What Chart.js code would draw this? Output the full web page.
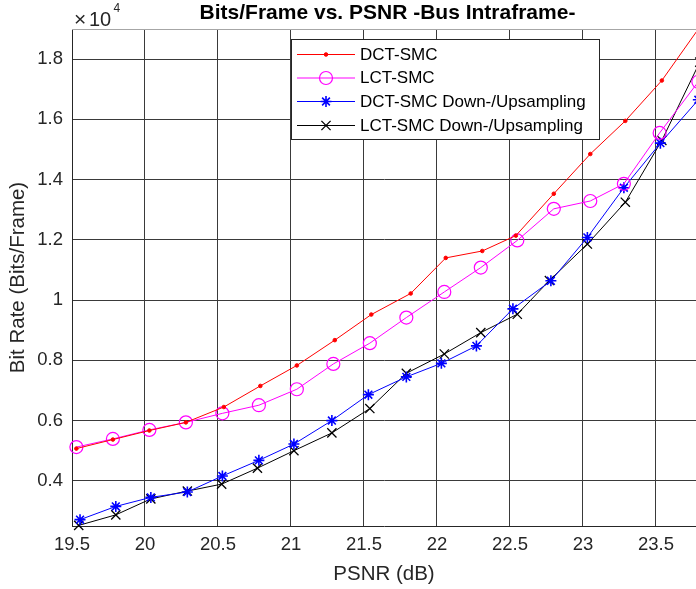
<!DOCTYPE html>
<html>
<head>
<meta charset="utf-8">
<script src="https://cdn.jsdelivr.net/npm/chart.js@4.4.1/dist/chart.umd.min.js"></script>
<style>
html,body{margin:0;padding:0;background:#fff;}
#c{display:block;}
</style>
</head>
<body>
<canvas id="c" width="696" height="589"></canvas>
<script>
// ---- data (PSNR in dB, bit rate in bits/frame) ----
const seriesNames = ["DCT-SMC", "LCT-SMC", "DCT-SMC Down-/Upsampling", "LCT-SMC Down-/Upsampling"];

const dctX = [19.53, 19.78, 20.03, 20.28, 20.54, 20.79, 21.04, 21.30, 21.55, 21.82, 22.06, 22.31, 22.54, 22.80, 23.05, 23.29, 23.54, 23.79];
const dctY = [5070, 5370, 5670, 5940, 6450, 7150, 7830, 8670, 9520, 10220, 11400, 11630, 12140, 13530, 14850, 15950, 17290, 19000];

const lctX = [19.53, 19.78, 20.03, 20.28, 20.53, 20.78, 21.04, 21.29, 21.54, 21.79, 22.05, 22.30, 22.55, 22.80, 23.05, 23.28, 23.525, 23.79];
const lctY = [5120, 5390, 5690, 5940, 6240, 6510, 7040, 7880, 8570, 9420, 10270, 11080, 11980, 13030, 13290, 13860, 15550, 17250];

const dctDownX = [19.555, 19.80, 20.04, 20.29, 20.53, 20.78, 21.02, 21.28, 21.53, 21.79, 22.03, 22.27, 22.52, 22.78, 23.03, 23.28, 23.53, 23.79];
const dctDownY = [2710, 3150, 3450, 3630, 4160, 4680, 5220, 6000, 6860, 7450, 7900, 8480, 9710, 10640, 12080, 13730, 15210, 16650];

const lctDownX = [19.546, 19.80, 20.04, 20.29, 20.525, 20.77, 21.02, 21.28, 21.54, 21.79, 22.05, 22.30, 22.55, 22.77, 23.03, 23.29, 23.54, 23.80];
const lctDownY = [2520, 2870, 3400, 3660, 3890, 4420, 5000, 5590, 6400, 7570, 8210, 8920, 9530, 10650, 11860, 13250, 15300, 17900];

const xTicks = [19.5, 20, 20.5, 21, 21.5, 22, 22.5, 23, 23.5];
const yTicks = [4000, 6000, 8000, 10000, 12000, 14000, 16000, 18000];

const titleText = "Bits/Frame vs. PSNR -Bus Intraframe-";
const xLabel = "PSNR (dB)";
const yLabel = "Bit Rate (Bits/Frame)";

// ---- build ----
const FONT = "'Liberation Sans', Arial, Helvetica, sans-serif";
const TXT = "#262626";
const zip = (xs, ys) => xs.map((x, i) => ({x: x, y: ys[i]}));

const styles = [
  {color: "#ff0000", pointStyle: "circle", radius: 1.8, bw: 1, fill: "#ff0000"},
  {color: "#ff00ff", pointStyle: "circle", radius: 6.5, bw: 1.2, fill: "rgba(0,0,0,0)"},
  {color: "#0000ff", pointStyle: "star", radius: 5.5, bw: 1.6, fill: "rgba(0,0,0,0)"},
  {color: "#000000", pointStyle: "crossRot", radius: 6.5, bw: 1.3, fill: "rgba(0,0,0,0)"}
];
const allData = [zip(dctX, dctY), zip(lctX, lctY), zip(dctDownX, dctDownY), zip(lctDownX, lctDownY)];

const datasets = allData.map((d, i) => ({
  label: seriesNames[i],
  data: d,
  borderColor: styles[i].color,
  backgroundColor: styles[i].fill,
  borderWidth: 1,
  pointStyle: styles[i].pointStyle,
  pointRadius: styles[i].radius,
  pointBorderWidth: styles[i].bw,
  pointBorderColor: styles[i].color,
  pointBackgroundColor: styles[i].fill,
  pointHoverRadius: styles[i].radius,
  tension: 0,
  fill: false,
  showLine: true,
  clip: false
}));

function drawMarker(ctx, st, x, y) {
  if (Chart.helpers && Chart.helpers.drawPoint) {
    ctx.save();
    ctx.strokeStyle = st.color;
    ctx.fillStyle = st.fill;
    ctx.lineWidth = st.bw;
    Chart.helpers.drawPoint(ctx, {pointStyle: st.pointStyle, radius: st.radius, rotation: 0, borderWidth: st.bw}, x, y);
    ctx.restore();
  }
}

const decor = {
  id: "decor",
  beforeDatasetsDraw(chart) {
    const {ctx, chartArea: a} = chart;
    ctx.save();
    ctx.strokeStyle = "#a6a6a6";
    ctx.lineWidth = 1;
    ctx.beginPath();
    ctx.moveTo(a.left, a.top + 0.5);
    ctx.lineTo(a.right, a.top + 0.5);
    ctx.stroke();
    ctx.restore();
  },
  afterDatasetsDraw(chart) {
    const ctx = chart.ctx;
    // legend box
    const L = 291.5, T = 39.5, R = 599.5, B = 139.5;
    ctx.save();
    ctx.fillStyle = "#ffffff";
    ctx.fillRect(L, T, R - L, B - T);
    ctx.strokeStyle = "#262626";
    ctx.lineWidth = 1;
    ctx.strokeRect(L, T, R - L, B - T);
    const rows = [54, 77.5, 101, 125];
    chart.data.datasets.forEach((ds, i) => {
      const y = rows[i];
      ctx.strokeStyle = styles[i].color;
      ctx.lineWidth = 1;
      ctx.beginPath();
      ctx.moveTo(297, y + 0.5);
      ctx.lineTo(355, y + 0.5);
      ctx.stroke();
      drawMarker(ctx, styles[i], 326, y + 0.5);
      ctx.fillStyle = "#000000";
      ctx.font = "17px " + FONT;
      ctx.textAlign = "left";
      ctx.textBaseline = "middle";
      ctx.fillText(ds.label, 360, y + 1);
    });
    ctx.restore();
  },
  afterDraw(chart) {
    const ctx = chart.ctx;
    ctx.save();
    // title
    ctx.fillStyle = "#000000";
    ctx.font = "bold 21px " + FONT;
    ctx.textAlign = "center";
    ctx.textBaseline = "alphabetic";
    ctx.fillText(titleText, 387.5, 19);
    // exponent
    ctx.fillStyle = TXT;
    ctx.textAlign = "left";
    ctx.font = "21px " + FONT;
    ctx.fillText("\u00d7", 74, 26);
    ctx.font = "20px " + FONT;
    ctx.fillText("10", 89, 25.5);
    ctx.font = "12px " + FONT;
    ctx.fillText("4", 113.5, 11.5);
    ctx.restore();
  }
};

new Chart(document.getElementById("c"), {
  type: "line",
  data: {datasets: datasets},
  plugins: [decor],
  options: {
    responsive: false,
    devicePixelRatio: 1,
    animation: false,
    events: [],
    layout: {autoPadding: false, padding: {left: 0, right: 0, top: 29, bottom: 0}},
    plugins: {legend: {display: false}, title: {display: false}, tooltip: {enabled: false}},
    scales: {
      x: {
        type: "linear",
        min: 19.5,
        max: 23.774,
        afterBuildTicks: (s) => { s.ticks = xTicks.map(v => ({value: v})); },
        afterFit: (s) => { s.height = 63; },
        grid: {color: "#3a3a3a", lineWidth: 1, drawTicks: false},
        border: {display: true, color: "#262626", width: 1},
        ticks: {color: TXT, font: {family: FONT, size: 18.5}, padding: 8, maxRotation: 0, autoSkip: false,
                callback: (v) => String(v)},
        title: {display: true, text: xLabel, color: TXT, font: {family: FONT, size: 20.5}, padding: {top: 0, bottom: 2}}
      },
      y: {
        type: "linear",
        min: 2500,
        max: 19000,
        afterBuildTicks: (s) => { s.ticks = yTicks.map(v => ({value: v})); },
        afterFit: (s) => { s.width = 72; },
        grid: {color: "#3a3a3a", lineWidth: 1, drawTicks: false},
        border: {display: true, color: "#262626", width: 1},
        ticks: {color: TXT, font: {family: FONT, size: 18.5}, padding: 9, autoSkip: false,
                callback: (v) => String(+(v / 10000).toFixed(1))},
        title: {display: true, text: yLabel, color: TXT, font: {family: FONT, size: 20.5}, padding: {top: 6, bottom: 0}}
      }
    }
  }
});
</script>
</body>
</html>
